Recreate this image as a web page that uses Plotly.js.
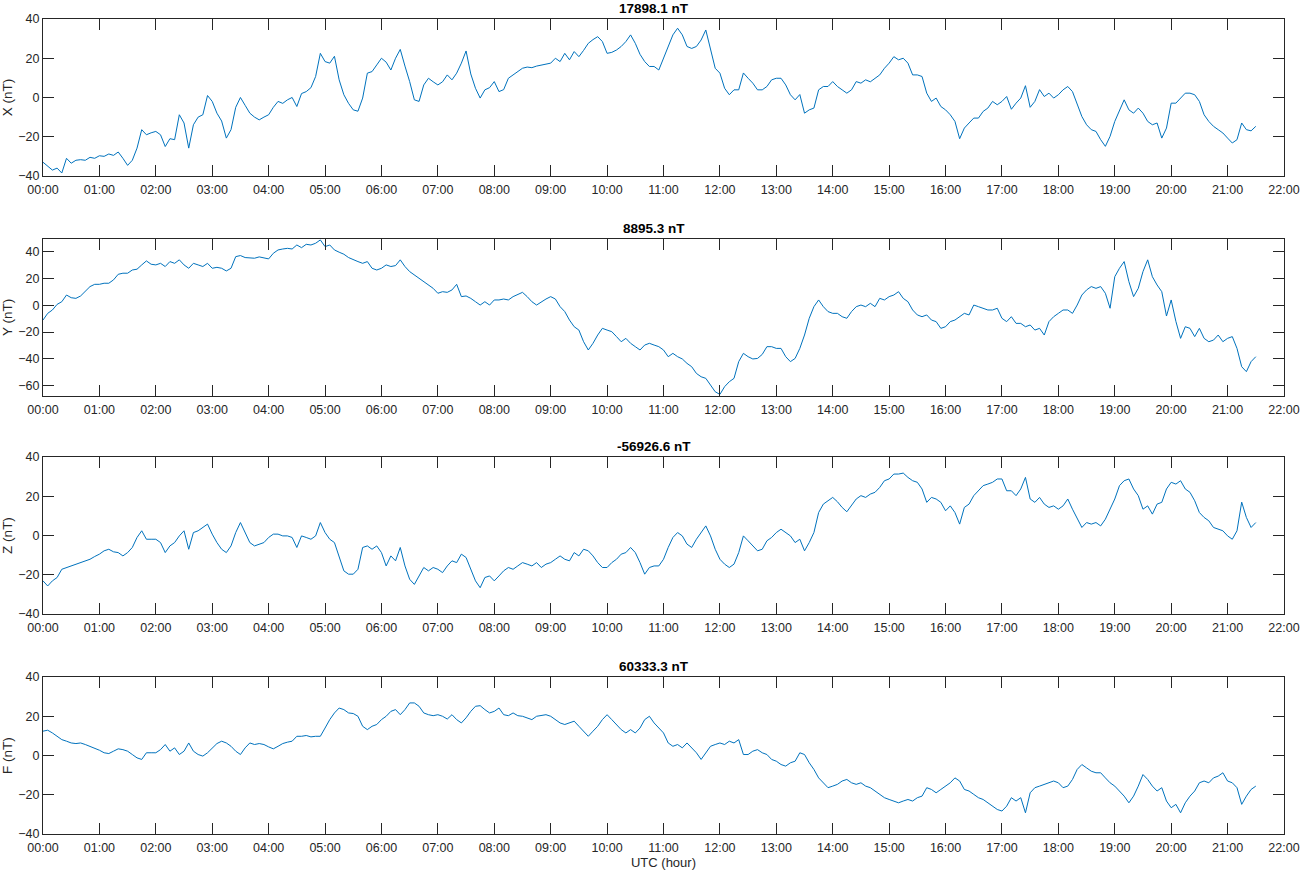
<!DOCTYPE html>
<html><head><meta charset="utf-8">
<script src="https://cdn.plot.ly/plotly-3.0.1.min.js"></script>
<style>html,body{margin:0;padding:0;background:#fff}#chart{width:1307px;height:872px}</style>
</head><body><div id="chart"></div>
<script>
// Samples every 5 minutes from 00:00 to 21:30 UTC
const sampleStepMin = 5;

const seriesX = [
-33,-35,-37,-36,-38.5,-31,-33.5,-32,-31.7,-32,-30.5,-31,
-29.7,-30,-28.8,-29.5,-27.8,-31,-34.6,-32,-25.8,-16.4,-19,-18,
-17.3,-19,-25,-21,-21.5,-8.8,-13,-25.8,-13.9,-10,-8.8,1,
-2,-8,-12,-20.7,-16.4,-5,0,-4,-8,-10,-11.4,-10,
-8.8,-5,-2,-3,-1.2,0,-4.6,2,3,5,10.7,22.5,
18.3,17.5,21,9,1.4,-3,-6.3,-7,-0.3,12.4,13.2,16.6,
20,18,14,20,24.5,16,8.1,-1.2,-2,6.4,9.8,8,
6.4,8,11.5,9,12.4,17.5,23.7,12,4.7,-0.3,3.9,5,
8.1,3,4,9.8,11.5,13,14.9,15.5,15.2,16,16.6,17,
17.5,20,18.3,22.5,19.2,23.4,20.8,24,27.6,29.5,31,28.5,
22.5,23,24.2,26,28.5,31.9,27.6,22,18.3,15.8,15.8,14,
20,26.8,31.9,35.3,31.9,26,25,26,29.3,34.4,25,14.9,
12.4,4.7,1.4,3.9,3.9,12.5,9.8,7.3,3.9,3.9,5.6,9,
9.8,9.8,6.4,1.4,-1.2,1.5,-8,-6.3,-5.4,3.9,5.6,5.6,
8.1,5.6,3.9,2.2,3.9,8.1,7.3,9,8,9.8,11.5,14.9,
17.5,20.8,19.2,20,17.5,11.5,11.5,10.7,2.2,-2,-0.3,-4.6,
-6.3,-8.8,-12.2,-21,-15.6,-13,-10.5,-10.5,-7.1,-5.4,-2,-3.7,
-2,0.5,-6,-2.9,-0.3,6,-5,-2,4,0.5,2.2,-0.3,
1.4,3.9,5.6,3,-2.9,-9.7,-13.9,-16.4,-17.3,-21.5,-24.9,-19.8,
-12.2,-6.3,-1.2,-6.3,-8,-5.4,-8,-12.2,-13.9,-13,-20.7,-15.6,
-2.9,-2.9,-0.3,2.2,2.2,1.4,-2,-8.8,-12.2,-14.7,-16.4,-18.1,
-20.7,-23.2,-21.5,-13,-16.4,-17,-14.7
];

const seriesY = [
-11,-6,-3.5,0.7,2.7,7.7,5.7,5.2,7,10.2,14,15.7,
15.7,16.5,16.5,19,23.2,24,24,26.4,27,30.2,33.2,30.7,
30.2,31.4,29,32.7,31.4,34,30.2,27.7,31.4,30.2,29,31.4,
27.7,28.4,27.7,25.7,27.7,36.4,37.2,35.7,35.2,35.2,36.2,35.2,
34.7,38.9,41.4,42.1,42.6,42.1,45.1,43.1,45.6,45.1,46.4,48.9,
43.9,45.1,41.4,39.7,38.2,35.7,34,32.7,31.4,32.7,27.7,26.4,
27.7,30.2,29,29.7,34,29,25.2,22.7,20.2,17.7,15.2,12.7,
9,10.2,9.7,11.5,15.7,6.5,7,5.2,2.7,0.2,2.7,0.2,
4,4,4.7,4,6.5,8.2,9.7,6.5,2.7,0.2,2.7,4.7,
6.5,4.7,-1,-4.7,-11,-16,-18.5,-27.2,-33.4,-28.4,-22.2,-17.2,
-18.5,-19.7,-23.4,-27.2,-24.7,-28.4,-30.9,-33.4,-29.7,-28.4,-29.7,-30.9,
-33.4,-38.4,-35.9,-38.4,-40.1,-43.4,-45.9,-50.9,-53.4,-54.6,-59.6,-64.6,
-66.6,-60.8,-57.1,-54.6,-42.1,-35.9,-38.4,-40.1,-39.7,-36.7,-30.9,-30.9,
-32.2,-32.2,-38.4,-42.1,-39.7,-32.2,-22.2,-9.7,-1,4,-1,-4.7,
-6,-6,-8.5,-9.7,-4.7,-1,0.2,-1,1.5,-1,5.2,4,
6.5,7.7,10.2,5.2,2.7,-3.5,-7.2,-8.5,-7.2,-11,-12.2,-17.2,
-16,-12.2,-11,-8.5,-6,-7.2,0.2,-1,-2.2,-3.5,-3.5,-2.2,
-9.7,-12.2,-8.5,-13.5,-13.5,-16,-14.7,-18.5,-17.2,-22.2,-12.2,-8.5,
-6,-3.5,-3.5,-6,0.2,7.7,11.5,14,12.7,14,9,-2.2,
21.4,27.7,32.7,17.7,6.5,12.7,25.2,34,21.4,15.2,10.2,-8,
4,-12,-24.7,-16,-17.2,-23.4,-17.2,-24.7,-27.2,-26,-22.2,-27.2,
-24.7,-23.4,-32.2,-45.9,-49.6,-42.1,-38.4
];

const seriesZ = [
-23.1,-25.7,-23.1,-21.4,-17.2,-16.3,-15.5,-14.6,-13.8,-12.9,-12.1,-10.7,
-9.5,-7.8,-7,-8.3,-8.7,-10.4,-8.7,-6.1,-1,2.4,-1.9,-1.9,
-1.9,-3.6,-8.7,-5.3,-3.6,-0.2,2.4,-7,1.5,2.4,4.1,5.8,
0.7,-3.6,-7,-8.7,-5.3,1.5,6.6,1.5,-3.6,-5.3,-4.4,-3.6,
-1,0.7,0.7,-0.2,-0.2,-1,-6.1,-0.2,-1,-1.9,-0.2,6.6,
1.5,-1.9,-3.6,-10.4,-18,-19.7,-19.7,-17.2,-6.1,-5.3,-7,-5.3,
-8.7,-15.5,-10.4,-12.9,-6.1,-15.5,-22.3,-24.9,-20.6,-16.3,-18,-16.3,
-17.2,-18.9,-15.5,-12.9,-13.8,-9.5,-11.2,-17.2,-23.1,-26.6,-21.4,-20.6,
-23.1,-20.6,-18,-16.3,-17.2,-15.5,-13.8,-14.6,-15.5,-13.8,-16.3,-14.6,
-13.8,-12.1,-10.4,-12.1,-12.9,-8.7,-10.4,-7,-7.8,-10.4,-13.8,-16.3,
-16.3,-13.8,-12.1,-9.5,-8.7,-6.1,-8.7,-13.8,-19.7,-16.3,-15.5,-15.5,
-12.1,-6.1,-1,1.5,-0.2,-4.4,-6.1,-1.9,1.5,4.9,-0.2,-7,
-12.1,-14.6,-16.3,-14.6,-8.7,-0.2,-2.7,-5.3,-7.8,-7,-2.7,-1,
1.5,3.2,1.5,-0.2,-3.6,-1.9,-7.8,-3.6,1.5,11.7,16,17.7,
19.4,17.2,14.3,12.1,15.1,18.6,20.3,19.4,21.1,22,24.5,27.9,
28.8,31.3,31.3,31.8,29.6,27.9,27.1,23.7,16.9,19.4,18.6,16.9,
12.6,15.1,11.7,5.8,14.3,16,20.3,22.8,25.4,26.2,27.1,28.8,
28.8,22.8,22.8,20.3,23.7,29.6,18.6,16.9,19.4,16,14.3,15.1,
13.4,15.1,18.6,13.4,8.3,4.1,6.6,5.8,6.6,4.9,8.3,13.4,
18.6,25.4,27.9,28.8,23.7,20.3,13.4,15.1,10.9,16,16.9,23.7,
27.1,26.2,27.9,23.7,22,17.7,11.7,9.2,7.5,4.1,3.2,2.4,
-0.2,-1.9,2.4,17,9.2,4.1,6.6
];

const seriesF = [
12.4,12.9,11.5,9.8,8.1,7.3,6.4,6.1,6.4,5.6,4.7,3.9,
2.7,1.4,1,2.2,3.4,3,2.2,0.5,-1.2,-2,1.4,1.4,
1.4,3,5.6,2.2,3.9,0.5,2.2,6.4,2.2,0.5,-0.3,1.4,
3.9,6.1,7.3,6.4,4.7,2.2,0.5,3.9,6.4,5.6,6.1,5.6,
4.4,3.4,4.7,6.1,6.8,7.3,9.8,9.8,10.2,9.5,9.8,9.8,
14,18.3,21.7,24.2,23.4,21.7,21.4,20,14.9,13.2,14.9,15.8,
18.3,20,22.5,23.4,20.8,23.4,26.8,26.8,25.1,21.7,20.8,20.3,
20.8,20,18.6,20.8,18.3,16.6,19.2,22.5,25.1,25.4,23.4,21.7,
22.5,24.2,20.8,20.3,21.7,20.3,20,19.2,18.3,20,20.3,20.8,
20,18.3,16.6,15.8,16.6,17.5,14.9,12.4,9.8,12.4,14.9,18.3,
20.8,18.3,15.8,13.2,11.5,13.2,11.5,14,18.3,20,16.6,14,
11.5,6.4,4.7,5.6,3.9,6.4,3.9,1.4,-2,1.4,4.7,5.6,
6.4,5.6,7.3,6.4,8.1,0.5,0.5,2.2,3,1.4,0.5,-2,
-2.9,-4.6,-5.4,-3.7,-2.9,1.4,0.5,-3.7,-7.1,-11.4,-13.9,-16.4,
-15.6,-14.7,-13,-12.2,-13.9,-14.7,-13.9,-15.6,-16.4,-18.1,-19.8,-21.5,
-22.4,-23.2,-24.1,-23.2,-22.4,-23.2,-21.5,-20.7,-16.4,-17.3,-19,-17.3,
-15.6,-13.9,-11.4,-13,-17.3,-18.1,-19.8,-21.5,-22.4,-24.1,-25.8,-27.5,
-28.3,-25.8,-21.5,-23.2,-21.5,-29.2,-19,-16.4,-15.6,-14.7,-13.9,-13,
-13.9,-16.4,-15.6,-12.2,-7.1,-4.6,-6.3,-8,-8.8,-8.8,-11.4,-13.9,
-15.6,-18.1,-20.7,-24.1,-20.7,-15.6,-9.7,-12.2,-15.6,-18.1,-16.4,-23.2,
-26.6,-24.9,-29.2,-24.1,-20.7,-18.1,-13.9,-13,-13.9,-11.4,-10.5,-8.8,
-13,-13.9,-16.4,-24.9,-20.7,-17.3,-15.6
];

const panelTitles = ['17898.1 nT', '8895.3 nT', '-56926.6 nT', '60333.3 nT'];
const yAxisLabels = ['X (nT)', 'Y (nT)', 'Z (nT)', 'F (nT)'];
const xTickValues = [0,1,2,3,4,5,6,7,8,9,10,11,12,13,14,15,16,17,18,19,20,21,22];
const xTickLabels = ['00:00','01:00','02:00','03:00','04:00','05:00','06:00','07:00','08:00','09:00','10:00',
  '11:00','12:00','13:00','14:00','15:00','16:00','17:00','18:00','19:00','20:00','21:00','22:00'];
const yTickValues = [[-40,-20,0,20,40],[-60,-40,-20,0,20,40],[-40,-20,0,20,40],[-40,-20,0,20,40]];
const yRanges = [[-40,40],[-67.8,49.6],[-40,40],[-40,40]];

const allSeries = [seriesX, seriesY, seriesZ, seriesF];
const hours = seriesX.map((_, i) => i * sampleStepMin / 60);

const domains = [[0.8074, 1.0], [0.5374, 0.7301], [0.2699, 0.4626], [0.0, 0.1926]];
const axisColor = '#262626';
const fontFam = '"Liberation Sans", Arial, Helvetica, sans-serif';

const traces = allSeries.map((s, i) => ({
  x: hours, y: s, type: 'scatter', mode: 'lines',
  line: {color: '#0072BD', width: 1},
  xaxis: 'x' + (i ? i + 1 : ''), yaxis: 'y' + (i ? i + 1 : ''),
  hoverinfo: 'skip', showlegend: false
}));

const layout = {
  width: 1307, height: 872,
  margin: {l: 43, r: 23, t: 19, b: 38, pad: 0},
  paper_bgcolor: '#fff', plot_bgcolor: '#fff',
  font: {family: fontFam, size: 12.5, color: axisColor},
  showlegend: false,
  annotations: []
};

for (let i = 0; i < 4; i++) {
  const sfx = i ? String(i + 1) : '';
  layout['xaxis' + sfx] = {
    domain: [0, 1], anchor: 'y' + sfx, range: [0, 22],
    tickmode: 'array', tickvals: xTickValues, ticktext: xTickLabels,
    ticks: 'inside', ticklen: 11, tickwidth: 1, tickcolor: axisColor,
    showline: true, linecolor: axisColor, linewidth: 1, mirror: 'ticks',
    showgrid: false, zeroline: false, automargin: false,
    ticklabelstandoff: 2,
    tickfont: {family: fontFam, size: 12.5, color: axisColor},
    title: i === 3 ? {text: 'UTC (hour)', font: {family: fontFam, size: 13, color: axisColor}, standoff: 3} : {text: ''}
  };
  layout['yaxis' + sfx] = {
    domain: domains[i], anchor: 'x' + sfx, range: yRanges[i],
    tickmode: 'array', tickvals: yTickValues[i],
    ticks: 'inside', ticklen: 11, tickwidth: 1, tickcolor: axisColor,
    showline: true, linecolor: axisColor, linewidth: 1, mirror: 'ticks',
    showgrid: false, zeroline: false, automargin: false,
    tickfont: {family: fontFam, size: 12.5, color: axisColor},
    title: {text: yAxisLabels[i], font: {family: fontFam, size: 13.5, color: axisColor}, standoff: 6}
  };
  layout.annotations.push({
    text: '<b>' + panelTitles[i] + '</b>', xref: 'paper', yref: 'paper',
    x: 0.5, y: domains[i][1], xanchor: 'center', yanchor: 'bottom', xshift: -10, yshift: 1,
    showarrow: false, font: {family: fontFam, size: 13.5, color: '#000'}
  });
}

Plotly.newPlot('chart', traces, layout, {displayModeBar: false, staticPlot: true});
</script>
</body></html>
